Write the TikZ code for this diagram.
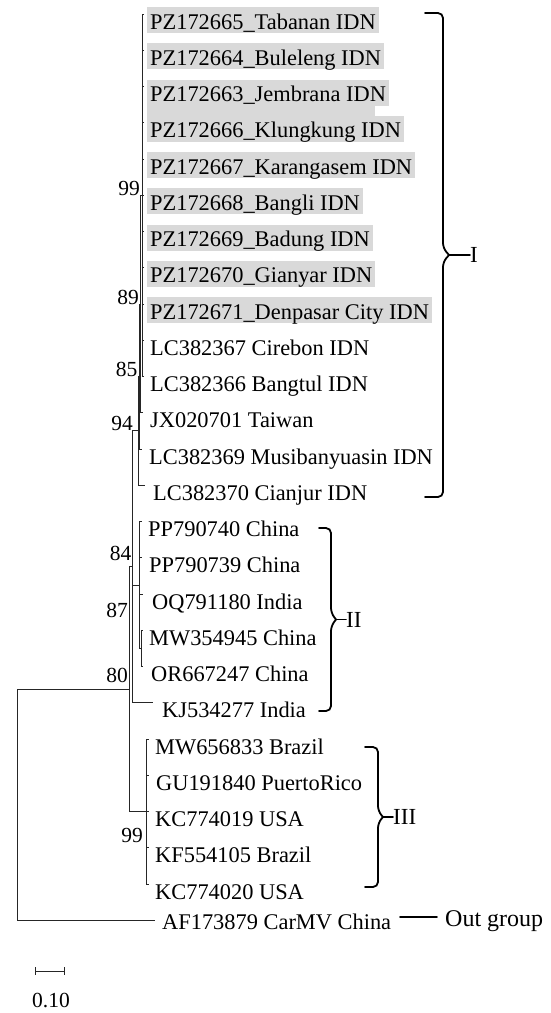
\documentclass[tikz,border=0pt]{standalone}
\usepackage{fontspec}
\setmainfont{Liberation Serif}
\definecolor{hl}{RGB}{217,217,217}
\newcommand{\leafnode}[6]{%
  \coordinate (t#1) at (#2,#3);
  \node[#5] (l#1) at (#4,#3+15) {#6};}
\begin{document}
\begin{tikzpicture}[x=1pt,y=-1pt,
  every node/.style={font=\fontsize{22.4}{26}\selectfont, inner sep=0pt},
  br/.style={line width=0.9pt, black!85},
  brk/.style={line width=1.8pt, black, line cap=round},
  leaf/.style={anchor=base west, inner xsep=3pt, inner ysep=0pt, text height=22pt, text depth=4pt},
  hleaf/.style={leaf, fill=hl},
  boot/.style={anchor=base east, font=\fontsize{21.5}{24}\selectfont},
  grp/.style={anchor=west, font=\fontsize{23}{26}\selectfont}]
\useasboundingbox (0,0) rectangle (551,1013);
% highlight bridge between rows 3 and 4
\fill[hl] (147,104) rectangle (375,117);
% leaves
\leafnode{1}{144}{14}{147}{hleaf}{PZ172665\_Tabanan IDN}
\leafnode{2}{144}{50.25}{147}{hleaf}{PZ172664\_Buleleng IDN}
\leafnode{3}{144}{86.5}{147}{hleaf}{PZ172663\_Jembrana IDN}
\leafnode{4}{144}{122.75}{147}{hleaf}{PZ172666\_Klungkung IDN}
\leafnode{5}{144}{159}{147}{hleaf}{PZ172667\_Karangasem IDN}
\leafnode{6}{144}{195.25}{147}{hleaf}{PZ172668\_Bangli IDN}
\leafnode{7}{144}{231.5}{147}{hleaf}{PZ172669\_Badung IDN}
\leafnode{8}{144}{267.75}{147}{hleaf}{PZ172670\_Gianyar IDN}
\leafnode{9}{144}{304}{147}{hleaf}{PZ172671\_Denpasar City IDN}
\leafnode{10}{144}{340.25}{147}{leaf}{LC382367 Cirebon IDN}
\leafnode{11}{144}{376.5}{147}{leaf}{LC382366 Bangtul IDN}
\leafnode{12}{142.5}{412.75}{147}{leaf}{JX020701 Taiwan}
\leafnode{13}{142}{449}{146}{leaf}{LC382369 Musibanyuasin IDN}
\leafnode{14}{145}{485.25}{150}{leaf}{LC382370 Cianjur IDN}
\leafnode{15}{142}{521.5}{145}{leaf}{PP790740 China}
\leafnode{16}{142}{557.75}{146}{leaf}{PP790739 China}
\leafnode{17}{143}{594}{149}{leaf}{OQ791180 India}
\leafnode{18}{143}{630.25}{146}{leaf}{MW354945 China}
\leafnode{19}{143}{666.5}{148}{leaf}{OR667247 China}
\leafnode{20}{153}{702.75}{159}{leaf}{KJ534277 India}
\leafnode{21}{148.5}{739}{152}{leaf}{MW656833 Brazil}
\leafnode{22}{148.5}{775.25}{153}{leaf}{GU191840 PuertoRico}
\leafnode{23}{148.5}{811.5}{152}{leaf}{KC774019 USA}
\leafnode{24}{148.5}{847.75}{152}{leaf}{KF554105 Brazil}
\leafnode{25}{148.5}{884}{152}{leaf}{KC774020 USA}
\coordinate (t26) at (155,920.25);
\node[leaf] (l26) at (159,929) {AF173879 CarMV China};
% internal nodes
\coordinate (root) at (17,804.7);
\coordinate (n80) at (129,689.2);
\coordinate (n84) at (132,566.8);
\coordinate (n94) at (138,430.9);
\coordinate (n85) at (139.5,376.5);
\coordinate (n89) at (140.5,304);
\coordinate (n99) at (142.5,195.25);
\coordinate (n87) at (139,585);
\coordinate (n2s) at (141,648.4);
\coordinate (n99b) at (146,811.5);
% branches
\draw[br] (root) |- (n80);
\draw[br] (root) |- (t26);
\draw[br] (n80) |- (n84);
\draw[br] (n80) |- (n99b);
\draw[br] (n84) |- (n94);
\draw[br] (n84) |- (n87);
\draw[br] (n84) |- (t20);
\draw[br] (n94) |- (n85);
\draw[br] (n94) |- (t14);
\draw[br] (n85) |- (n89);
\draw[br] (n85) |- (t13);
\draw[br] (n89) |- (n99);
\draw[br] (n89) |- (t12);
\foreach \i in {1,...,11} {\draw[br] (n99) |- (t\i);}
\foreach \i in {15,16,17} {\draw[br] (n87) |- (t\i);}
\draw[br] (n87) |- (n2s);
\draw[br] (n2s) |- (t18);
\draw[br] (n2s) |- (t19);
\foreach \i in {21,...,25} {\draw[br] (n99b) |- (t\i);}
% bootstrap values
\node[boot] (b99) at (140,195) {99};
\node[boot] (b89) at (139,304) {89};
\node[boot] (b85) at (137.5,376) {85};
\node[boot] (b94) at (133,430) {94};
\node[boot] (b84) at (131.5,560) {84};
\node[boot] (b87) at (128,617) {87};
\node[boot] (b80) at (128,682) {80};
\node[boot] (b99c) at (143,842) {99};
% bracket I
\coordinate (bIt) at (425,13);
\coordinate (bIb) at (425,497);
\coordinate (bIm) at (449,255);
\coordinate (bIp) at (470,255);
\draw[brk, rounded corners=5pt] (bIt) -- (443,13) -- (443,248) -- (bIm);
\draw[brk, rounded corners=5pt] (bIb) -- (443,497) -- (443,262) -- (bIm);
\draw[brk] (bIm) -- (bIp);
\node[grp] (gI) at (bIp) {I};
% bracket II
\coordinate (bIIt) at (319,528);
\coordinate (bIIb) at (319,711);
\coordinate (bIIm) at (336,619.5);
\coordinate (bIIp) at (346,619.5);
\draw[brk, rounded corners=5pt] (bIIt) -- (331,528) -- (331,613) -- (bIIm);
\draw[brk, rounded corners=5pt] (bIIb) -- (331,711) -- (331,626) -- (bIIm);
\draw[brk] (bIIm) -- (bIIp);
\node[grp] (gII) at (bIIp) {II};
% bracket III
\coordinate (bIIIt) at (365,747);
\coordinate (bIIIb) at (365,887);
\coordinate (bIIIm) at (383,817);
\coordinate (bIIIp) at (393,817);
\draw[brk, rounded corners=5pt] (bIIIt) -- (378,747) -- (378,811) -- (bIIIm);
\draw[brk, rounded corners=5pt] (bIIIb) -- (378,887) -- (378,823) -- (bIIIm);
\draw[brk] (bIIIm) -- (bIIIp);
\node[grp] (gIII) at (bIIIp) {III};
% out group
\node[anchor=base west, font=\fontsize{24}{28}\selectfont] (og) at (445,926) {Out group};
\coordinate (og1) at (400,917);
\coordinate (og2) at (437,917);
\draw[brk] (og1) -- (og2);
% scale bar
\coordinate (sb1) at (35,971);
\coordinate (sb2) at (64,971);
\draw[br] (sb1) -- (sb2);
\draw[br] (35,967) -- (35,975);
\draw[br] (64,967) -- (64,975);
\node[font=\fontsize{21.5}{24}\selectfont] (sbl) at (51,1000) {0.10};
\end{tikzpicture}
\end{document}
